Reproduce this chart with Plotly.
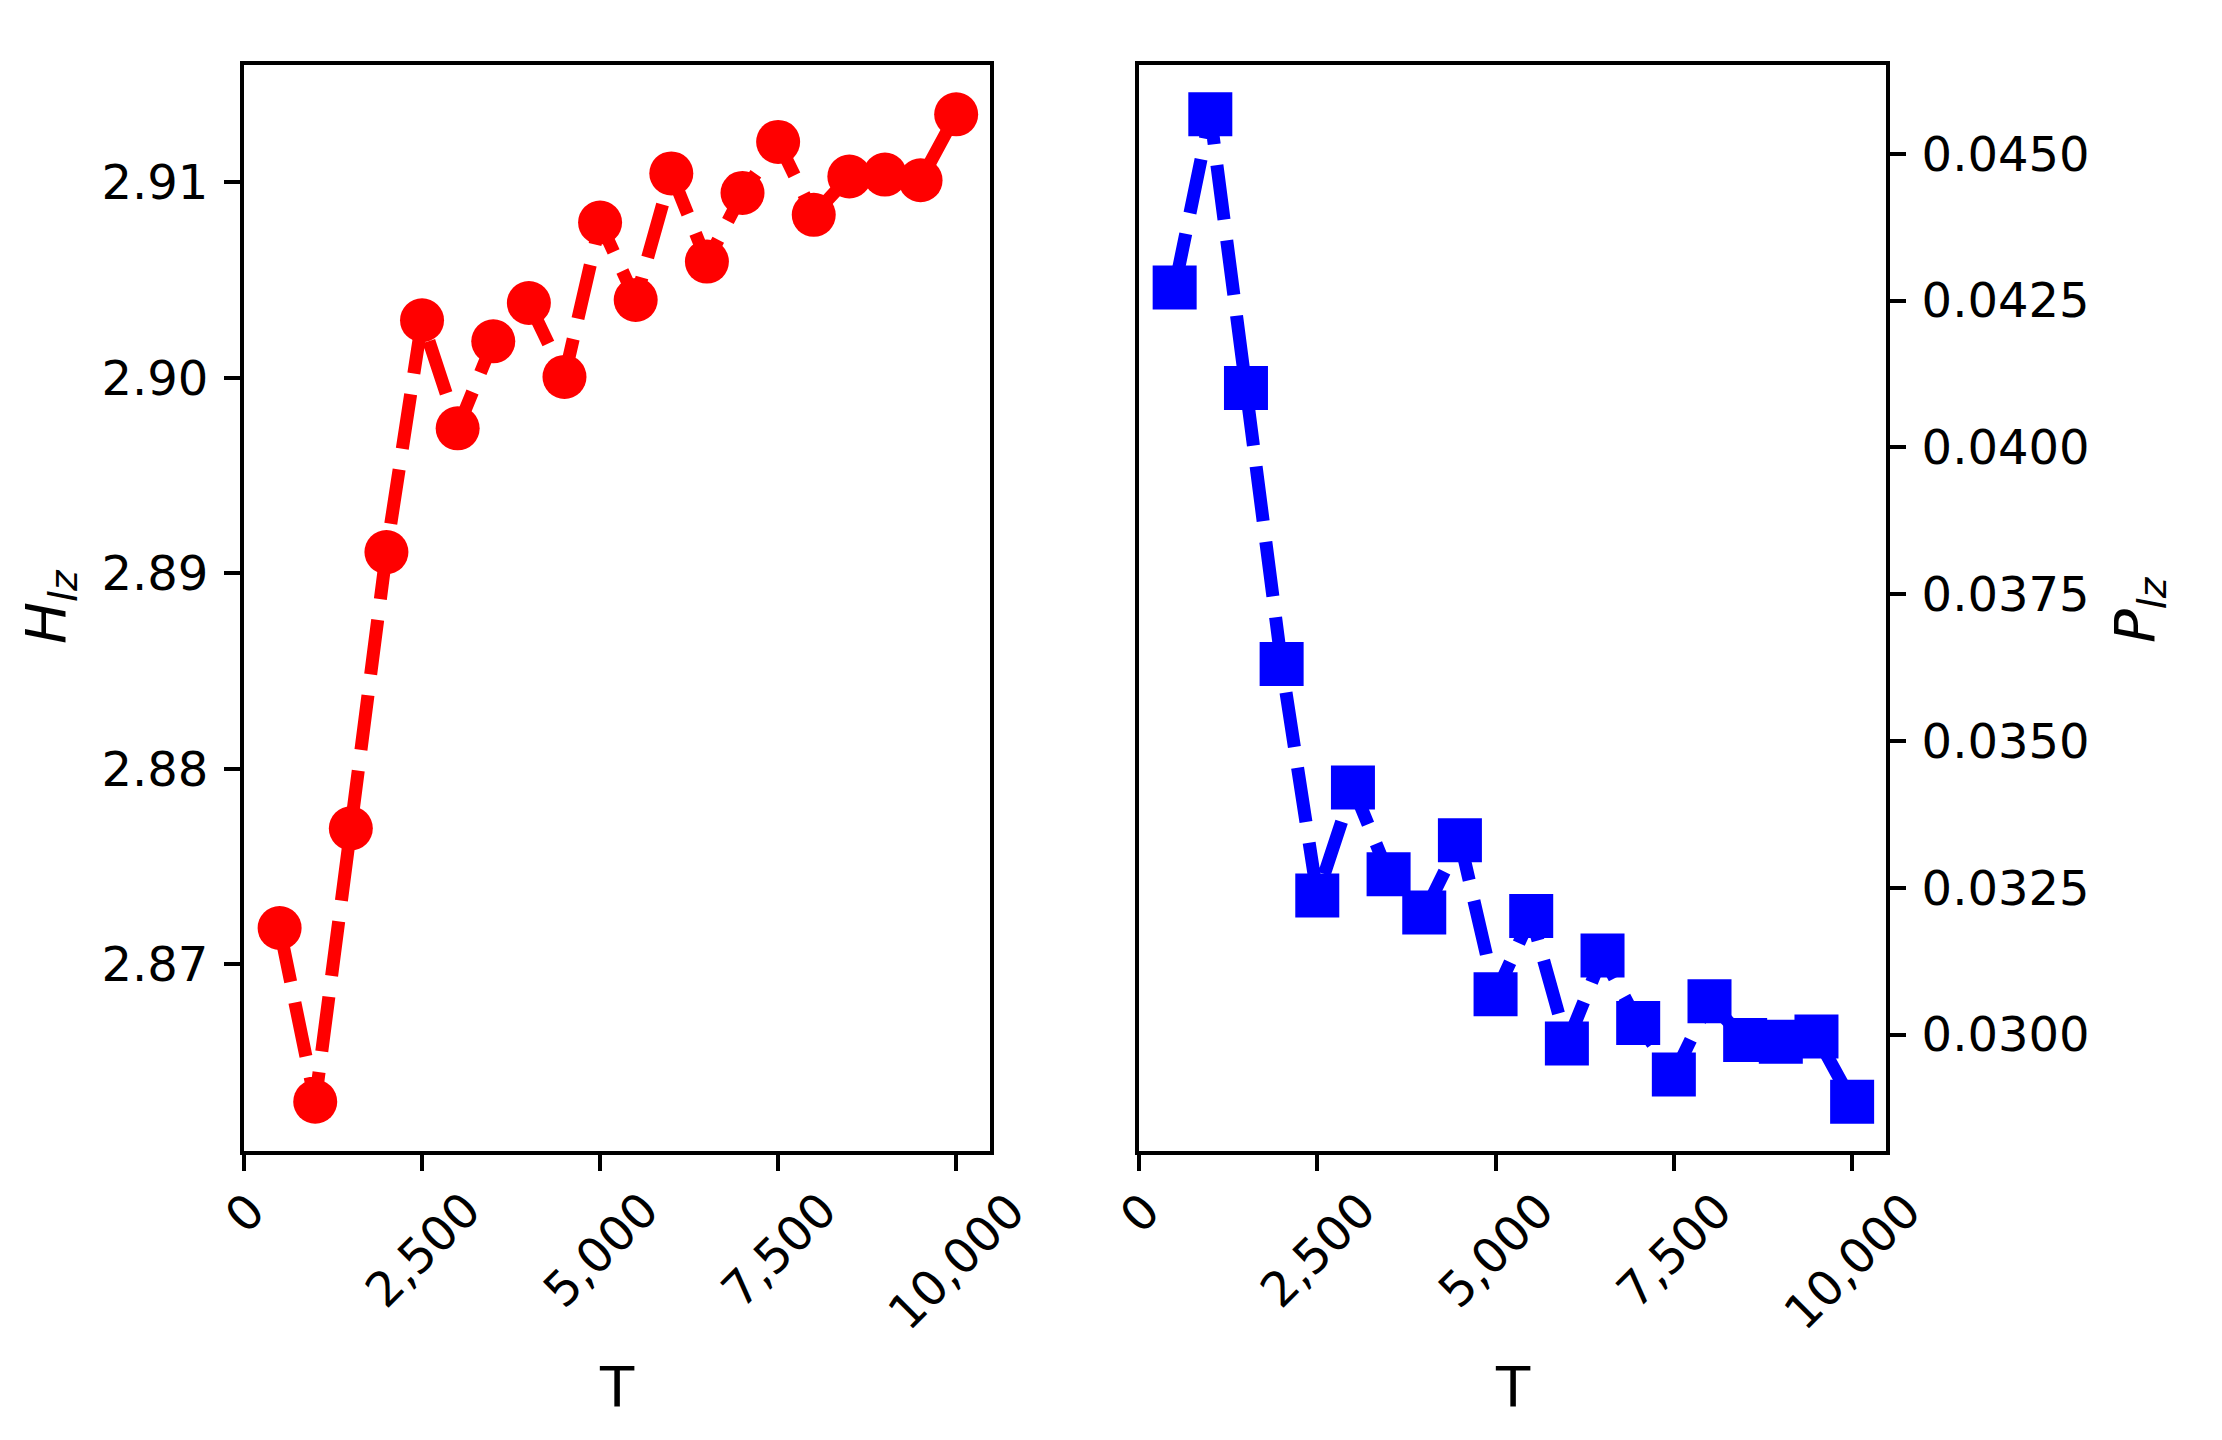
import plotly.graph_objects as go

# ---------------- data ----------------
T = [500, 1000, 1500, 2000, 2500, 3000, 3500, 4000, 4500, 5000,
     5500, 6000, 6500, 7000, 7500, 8000, 8500, 9000, 9500, 10000]
H_lz = [2.87185, 2.86297, 2.87695, 2.89108, 2.90294, 2.89741, 2.90186, 2.90382, 2.90004, 2.90794,
        2.90398, 2.91045, 2.90594, 2.90945, 2.91206, 2.90833, 2.91029, 2.91039, 2.91010, 2.91347]
P_lz = [0.04272, 0.04567, 0.04101, 0.03631, 0.03237, 0.03421, 0.03273, 0.03208, 0.03331, 0.03069,
        0.03202, 0.02985, 0.03135, 0.03020, 0.02932, 0.03057, 0.02991, 0.02988, 0.02997, 0.02886]

x_tickvals = [0, 2500, 5000, 7500, 10000]
x_ticktext = ["0", "2,500", "5,000", "7,500", "10,000"]
h_tickvals = [2.87, 2.88, 2.89, 2.90, 2.91]
p_tickvals = [0.0300, 0.0325, 0.0350, 0.0375, 0.0400, 0.0425, 0.0450]

x_title = "T"
h_title = "<i>H</i><sub><i>lz</i></sub>"
p_title = "<i>P</i><sub><i>lz</i></sub>"

# ---------------- style ----------------
W, HGT = 2222, 1440
FONT = "DejaVu Sans"
TICK_FS = 48
TITLE_FS = 56


def padded(vals, frac=0.05):
    lo, hi = min(vals), max(vals)
    d = (hi - lo) * frac
    return [lo - d, hi + d]


fig = go.Figure()
fig.add_trace(go.Scatter(
    x=T, y=H_lz, mode="lines+markers", xaxis="x", yaxis="y", showlegend=False,
    line=dict(color="#ff0000", width=13, dash="55px,21px"),
    marker=dict(symbol="circle", size=44, color="#ff0000"),
))
fig.add_trace(go.Scatter(
    x=T, y=P_lz, mode="lines+markers", xaxis="x2", yaxis="y2", showlegend=False,
    line=dict(color="#0000ff", width=13, dash="55px,21px"),
    marker=dict(symbol="square", size=44, color="#0000ff"),
))

ax_common = dict(
    showline=True, linecolor="black", linewidth=4, mirror=True,
    ticks="outside", ticklen=16, tickwidth=4, tickcolor="black",
    showgrid=False, zeroline=False,
    tickfont=dict(family=FONT, size=TICK_FS, color="black"),
)

x_range = [0, 10475]
xd1 = [244 / W, 990 / W]
xd2 = [1139 / W, 1886 / W]
yd = [1 - 1151 / HGT, 1 - 65 / HGT]

fig.update_layout(
    width=W, height=HGT,
    margin=dict(l=0, r=0, t=0, b=0),
    paper_bgcolor="white", plot_bgcolor="white",
    font=dict(family=FONT, color="black"),
    xaxis=dict(domain=xd1, range=x_range, tickvals=x_tickvals, showticklabels=False,
               anchor="y", **ax_common),
    yaxis=dict(domain=yd, range=padded(H_lz), tickvals=h_tickvals, tickformat=".2f",
               anchor="x", ticklabelstandoff=6, **ax_common),
    xaxis2=dict(domain=xd2, range=x_range, tickvals=x_tickvals, showticklabels=False,
                anchor="y2", **ax_common),
    yaxis2=dict(domain=yd, range=padded(P_lz), tickvals=p_tickvals, tickformat=".4f",
                anchor="x2", side="right", ticklabelstandoff=6, **ax_common),
)

annotations = []
for xa, ya in (("x", "y domain"), ("x2", "y2 domain")):
    for v, t in zip(x_tickvals, x_ticktext):
        annotations.append(dict(
            x=v, xref=xa, y=0, yref=ya, yanchor="top", xanchor="center",
            yshift=-28, textangle=-45, text=t, showarrow=False,
            font=dict(family=FONT, size=TICK_FS, color="black"),
        ))
    annotations.append(dict(
        x=0.5, xref=xa + " domain", y=1 - 1386 / HGT, yref="paper",
        xanchor="center", yanchor="middle", text=x_title, showarrow=False,
        font=dict(family=FONT, size=TITLE_FS, color="black"),
    ))

annotations.append(dict(
    x=50 / W, xref="paper", y=1 - 607 / HGT, yref="paper", xanchor="center", yanchor="middle",
    text=h_title, textangle=-90, showarrow=False,
    font=dict(family=FONT, size=TITLE_FS, color="black"),
))
annotations.append(dict(
    x=2138 / W, xref="paper", y=1 - 610 / HGT, yref="paper", xanchor="center", yanchor="middle",
    text=p_title, textangle=-90, showarrow=False,
    font=dict(family=FONT, size=TITLE_FS, color="black"),
))
fig.update_layout(annotations=annotations)

fig.write_html("out.html", config={"displayModeBar": False},
               post_script="document.body.style.margin='0';")
